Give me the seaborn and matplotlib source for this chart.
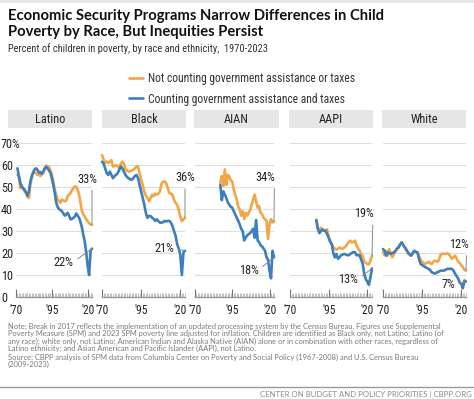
import pandas as pd
import matplotlib.pyplot as plt
import seaborn as sns
from matplotlib import font_manager
from matplotlib.patches import Rectangle
from matplotlib.lines import Line2D

# ---- data (percent of children in poverty) ----
groups = ["Latino", "Black", "AIAN", "AAPI", "White"]
start_year = {"Latino": 1971, "Black": 1970, "AIAN": 1987, "AAPI": 1987, "White": 1970}

latino_pre = [55.5, 54.8, 49.5, 51, 49, 48, 47.3, 45.5, 45, 51,
              54, 57, 56.5, 56.3, 55.5, 55.5, 55, 55.8, 56.3, 58,
              59.7, 59.5, 59, 57.8, 55.5, 52.5, 48.8, 46.5, 44.3, 43.5,
              42.8, 44.3, 44, 43.5, 43.8, 45.8, 46.5, 47.3, 48.5, 49.5,
              50.3, 50, 48.8, 46.5, 42.8, 39, 37.5, 36.5, 35.3, 34.5,
              33.5, 33, 32.8]
latino_post = [58.5, 55, 52, 50, 49.5, 48.8, 47.5, 46, 48, 52.5,
               55, 56.5, 58, 58.5, 57.8, 56.5, 56.8, 56, 57, 58.5,
               59.2, 58.5, 57.5, 56.5, 54, 51, 47.5, 43, 41, 40,
               39.5, 39, 38, 37, 37.5, 38.3, 37, 35.3, 35.5, 36,
               36.5, 38, 37, 36, 34, 31.5, 28, 25, 20, 14,
               10, 21, 22]

black_pre = [64.5, 62.5, 61, 61.5, 61, 61.5, 62.2, 59.3, 59.5, 60,
             59.5, 58.5, 60.5, 61.5, 60.5, 58, 57.5, 57, 57.2, 57.5,
             57.8, 58.5, 59.3, 59.3, 56.3, 53.3, 51, 48, 46, 45,
             43.5, 45, 46.5, 45.8, 47, 46.5, 47, 48, 51.5, 52.5,
             52.5, 51.8, 49.5, 47.3, 47, 46.5, 44, 42.8, 42, 39.5,
             36.5, 34.5, 35.3, 36]
black_post = [61.5, 60.7, 58.5, 56.3, 55.5, 57, 55.5, 54, 55, 55.5,
              56.3, 57.8, 59.3, 58.5, 57, 55.5, 54.5, 54, 53.5, 53.3,
              54, 55, 55.5, 54, 51, 48, 45, 42, 38.3, 36,
              36.8, 36.8, 36, 35.5, 34.6, 35.3, 34.5, 33.8, 33.8, 34,
              34.6, 34.3, 34.6, 34.6, 33.8, 32.3, 30, 27.8, 24, 22,
              19, 10, 20.3, 21]

aian_pre = [52, 55, 50.5, 58, 51, 55.5, 54.8, 53, 52.5, 48.8,
            46.5, 44.3, 41, 39.8, 37, 39, 35.4, 38.3, 37, 38.3,
            39.5, 42, 44.3, 46.5, 43.5, 40.6, 41.3, 38.3, 37.6, 36,
            35.3, 34.6, 26.4, 33, 35.4, 33.9, 34.3]
aian_post = [51, 44, 48, 46.6, 45, 43, 42, 41, 40.6, 39,
             37.6, 36, 34.6, 33, 31, 30, 25.7, 27, 28, 28.6,
             29, 30, 31, 27, 35, 25.7, 25, 23.5, 23, 22,
             21, 18, 17, 12, 8.5, 21, 18]

aapi_pre = [35, 31, 30, 31.5, 30.5, 30, 30.5, 30.7, 27, 25.5,
            24, 22.6, 22, 21.5, 22, 22.5, 22, 22, 22.5, 23,
            24, 25, 25.6, 24.8, 25, 25.6, 23.5, 22, 21, 19.5,
            18.6, 16, 15.6, 15, 14.8, 16.4, 18.8]
aapi_post = [35, 31, 29, 30, 30.7, 30.2, 30, 28.5, 27, 25,
             24, 20, 18, 19.6, 17.4, 18, 19, 19.3, 19.6, 19.3,
             19, 19, 19.6, 20, 20.4, 20.4, 19, 19, 19, 17,
             15, 10.5, 8, 7, 5.5, 9, 13]

white_pre = [20.3, 19, 21, 18.8, 21.8, 19.6, 18, 19.5, 21, 22,
             23, 24, 24.8, 23.5, 22.5, 21, 19.6, 19.2, 18.8, 19.8,
             21, 20.5, 20.3, 18.5, 17, 16, 15.5, 15, 15.5, 16,
             15.5, 15, 15.8, 16.6, 16.3, 16, 17.5, 19.6, 19.6, 19.6,
             19.6, 19.8, 19.6, 18.5, 17.3, 18, 18.8, 17.5, 16, 15.5,
             14.4, 13.5, 12.3, 12]
white_post = [21.8, 21, 18.8, 20.3, 20, 19.6, 20, 20.3, 21, 22,
              22.5, 24, 24.8, 23.5, 22.5, 21.5, 20.3, 19.5, 18.8, 20,
              21, 20.5, 20.3, 17.3, 15, 14.5, 14, 13.6, 13.2, 12.8,
              12.3, 11.3, 11, 10.6, 11, 11.3, 11.7, 12, 12, 12,
              12.4, 12.8, 12.8, 12.8, 12.8, 12, 10.6, 9.5, 8.4, 6.5,
              6, 4, 7.5, 7]

label_pre = ["33%", "36%", "34%", "19%", "12%"]
label_post = ["22%", "21%", "18%", "13%", "7%"]

pre_name = "Not counting government assistance or taxes"
post_name = "Counting government assistance and taxes"

series = {
    "Latino": (latino_pre, latino_post),
    "Black": (black_pre, black_post),
    "AIAN": (aian_pre, aian_post),
    "AAPI": (aapi_pre, aapi_post),
    "White": (white_pre, white_post),
}

rows = []
for g in groups:
    pre, post = series[g]
    for k, (a, b) in enumerate(zip(pre, post)):
        yr = start_year[g] + k
        rows.append((g, yr, pre_name, a))
        rows.append((g, yr, post_name, b))
df = pd.DataFrame(rows, columns=["group", "year", "measure", "rate"])

# ---- style ----
sns.set_theme(style="white")
names = {f.name for f in font_manager.fontManager.ttflist}
cond = "Roboto"
scale = 1.0
for cand in ["Roboto Condensed", "Liberation Sans Narrow", "Open Sans Condensed"]:
    if cand in names:
        cond = cand
        scale = 1.12
        break
plt.rcParams["font.family"] = [cond, "DejaVu Sans"]

orange = "#f3a646"
blue = "#3d7ebd"
ink = "#222222"
fs = 7.9 * scale   # chart text size

W, H = 474, 399
fig = plt.figure(figsize=(W / 100, H / 100), dpi=100)


def fx(px):
    return px / W


def fy(py):
    return 1 - py / H


# top strip
fig.add_artist(Rectangle((0, fy(3)), 1, 3 / H, transform=fig.transFigure,
                         facecolor="#e8e8e8", edgecolor="none"))

# title / subtitle
fig.text(fx(8), fy(20), "Economic Security Programs Narrow Differences in Child",
         family=["Lato", "DejaVu Sans"], weight="bold", size=10.6, color="#111", va="baseline")
fig.text(fx(8), fy(36), "Poverty by Race, But Inequities Persist",
         family=["Lato", "DejaVu Sans"], weight="bold", size=10.6, color="#111", va="baseline")
fig.text(fx(8), fy(52.5), "Percent of children in poverty, by race and ethnicity,  1970-2023",
         size=6.7 * scale, color="#333", va="baseline")

panel_x = {"Latino": (16, 92), "Black": (102, 185), "AIAN": (195, 274),
           "AAPI": (290, 372), "White": (383, 466)}
box_x = {"Latino": (8, 92), "Black": (102, 186), "AIAN": (194, 279),
         "AAPI": (289, 373), "White": (382, 466)}

# label placement (pixel offsets from the 2023 point, leader anchor on text)
pre_off = [(-4.6, 45.8, 0.73), (0, 40, 0.5), (-8.7, 44.2, 0.96), (-8, 41.7, 0.95), (-7.2, 26.3, 0.9)]
post_off = [(-28.6, -13.4), (-21, 2.8), (-25.5, -12.6), (-24, -10.9), (-17.7, -3.4)]

handles = None
for i, g in enumerate(groups):
    x0, x1 = panel_x[g]
    ax = fig.add_axes([fx(x0), fy(297), (x1 - x0) / W, 154 / H])
    sub = df[df["group"] == g]
    sns.lineplot(data=sub, x="year", y="rate", hue="measure",
                 hue_order=[pre_name, post_name], palette=[orange, blue],
                 linewidth=1.9, ax=ax, legend=(i == 0))
    for ln in ax.lines:
        ln.set_clip_on(False)
        ln.set_solid_joinstyle("round")
    if i == 0:
        handles, labels = ax.get_legend_handles_labels()
        ax.get_legend().remove()

    ax.set_xlim(1970, 2023)
    ax.set_ylim(0, 70)
    ax.set_xlabel("")
    ax.set_ylabel("")
    ax.set_yticks(range(0, 80, 10))
    ax.grid(axis="y", color="#dedede", lw=0.8)
    ax.grid(axis="x", visible=False)
    ax.set_xticks([1970, 1995, 2020])
    ax.set_xticklabels(["'70", "'95", "'20"])
    ax.set_xticks(range(1970, 2024), minor=True)
    ax.tick_params(axis="x", which="major", direction="in", length=6, width=0.8,
                   color="#777", labelsize=7.4 * scale, labelcolor=ink, pad=5, bottom=True)
    ax.tick_params(axis="x", which="minor", direction="in", length=3, width=0.5,
                   color="#aaa", bottom=True)
    sns.despine(ax=ax, left=True)
    ax.spines["bottom"].set_color("#999")
    ax.spines["bottom"].set_linewidth(1)
    ax.set_axisbelow(True)

    if i == 0:
        ax.set_yticklabels(["0", "10", "20", "30", "40", "50", "60", "70%"])
        ax.tick_params(axis="y", length=0, pad=10.8, labelsize=fs, labelcolor=ink)
        for t in ax.get_yticklabels():
            t.set_horizontalalignment("left")
    else:
        ax.tick_params(axis="y", length=0, labelleft=False)

    # end labels
    pre, post = series[g]
    last_year = start_year[g] + len(pre) - 1
    dx, dy, rx = pre_off[i]
    ax.annotate(label_pre[i], xy=(last_year, pre[-1]), xytext=(dx, dy),
                textcoords="offset pixels", ha="center", va="center",
                size=fs, color=ink, annotation_clip=False,
                arrowprops=dict(arrowstyle="-", color="#888", lw=0.7,
                                shrinkA=1, shrinkB=0, relpos=(rx, 0)))
    dx, dy = post_off[i]
    ax.annotate(label_post[i], xy=(last_year, post[-1]), xytext=(dx, dy),
                textcoords="offset pixels", ha="center", va="center",
                size=fs, color=ink, annotation_clip=False,
                arrowprops=dict(arrowstyle="-", color="#888", lw=0.7,
                                shrinkA=1, shrinkB=0, relpos=(1, 0.5)))

    # panel header
    b0, b1 = box_x[g]
    fig.add_artist(Rectangle((fx(b0), fy(128)), (b1 - b0) / W, 18 / H,
                             transform=fig.transFigure, facecolor="#e6e6e6",
                             edgecolor="none"))
    fig.text(fx((b0 + b1) / 2), fy(119.5), g, ha="center", va="center",
             size=fs, color=ink)

# legend
fig.legend(handles, labels, loc="upper left", bbox_to_anchor=(fx(129), fy(72)),
           frameon=False, fontsize=7.5 * scale, handlelength=1.2, handletextpad=0.4,
           labelspacing=0.65, borderpad=0, borderaxespad=0, labelcolor="#333")

# notes
note_lines = [
    "Note: Break in 2017 reflects the implementation of an updated processing system by the Census Bureau. Figures use Supplemental",
    "Poverty Measure (SPM) and 2023 SPM poverty line adjusted for inflation. Children are identified as Black only, not Latino; Latino (of",
    "any race); white only, not Latino; American Indian and Alaska Native (AIAN) alone or in combination with other races, regardless of",
    "Latino ethnicity; and Asian American and Pacific Islander (AAPI), not Latino.",
]
for k, s in enumerate(note_lines):
    fig.text(fx(8), fy(326.7 + 7.2 * k), s, family=["Lato", "DejaVu Sans"],
             size=5.45, color="#7a7a7a", va="center")
source_lines = [
    "Source: CBPP analysis of SPM data from Columbia Center on Poverty and Social Policy (1967-2008) and U.S. Census Bureau",
    "(2009-2023)",
]
for k, s in enumerate(source_lines):
    fig.text(fx(8), fy(357.3 + 7.2 * k), s, family=["Lato", "DejaVu Sans"],
             size=5.45, color="#7a7a7a", va="center")

# footer
fig.add_artist(Line2D([0, 1], [fy(387), fy(387)], transform=fig.transFigure,
                      color="#9a9a9a", lw=1))
fig.text(fx(472), fy(394), "CENTER ON BUDGET AND POLICY PRIORITIES | CBPP.ORG",
         family=["Lato", "DejaVu Sans"], size=5.6, color="#8a8a8a",
         ha="right", va="center")

fig.savefig("out.png", dpi=100, facecolor="white")
